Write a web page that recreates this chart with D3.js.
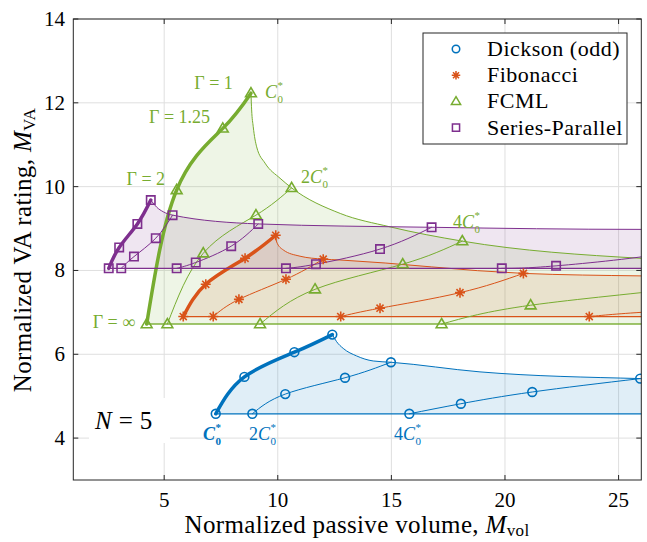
<!DOCTYPE html>
<html>
<head>
<meta charset="utf-8">
<script src="https://cdn.jsdelivr.net/npm/d3@7/dist/d3.min.js"></script>
<style>
html, body { margin: 0; padding: 0; background: #fff; }
svg text { font-family: "Liberation Serif", "Times New Roman", serif; fill: #000; }
</style>
</head>
<body>
<div id="chart"></div>
<script>
// points on each curve are read at these Γ values (bottom to top)
var gammas = ["inf", 2, 1.25, 1];
var xTicks = [5, 10, 15, 20, 25];
var yTicks = [4, 6, 8, 10, 12, 14];

// Dickson (odd): one row per capacitor size C0*, 2C0*, 4C0*
var dicksonX = [[7.27, 8.53, 10.73, 12.40], [8.88, 10.33, 12.96, 14.98], [15.79, 18.06, 21.2, 25.95]];
var dicksonY = [[4.58, 5.46, 6.05, 6.47], [4.58, 5.05, 5.44, 5.81], [4.58, 4.82, 5.10, 5.42]];
var dicksonEnvX = [12.40, 12.59, 12.88, 13.47, 14.20, 14.98, 18.9, 25.95, 27.5];
var dicksonEnvY = [6.47, 6.30, 6.14, 5.96, 5.84, 5.81, 5.58, 5.42, 5.40];

// Fibonacci: C0*, 2C0*, 4C0*, 8C0*
var fibX = [[5.84, 6.83, 8.56, 9.91], [7.16, 8.29, 10.36, 12.0], [12.77, 14.5, 18.02, 20.81], [23.71, 26.9, 33.5, 38.5]];
var fibY = [[6.90, 7.67, 8.29, 8.84], [6.90, 7.31, 7.79, 8.27], [6.90, 7.10, 7.47, 7.93], [6.90, 7.03, 7.25, 7.60]];
var fibEnvX = [9.91, 9.95, 10.24, 10.98, 12.0, 12.74, 20.81, 26, 27.5];
var fibEnvY = [8.84, 8.68, 8.49, 8.34, 8.27, 8.25, 7.93, 7.87, 7.86];

// FCML: C0*, 2C0*, 4C0*, 8C0*
var fcmlX = [[4.23, 5.55, 7.58, 8.82], [5.14, 6.72, 9.04, 10.61], [9.22, 11.64, 15.5, 18.12], [17.21, 21.13, 28.1, 32.5]];
var fcmlY = [[6.72, 9.92, 11.39, 12.23], [6.72, 8.41, 9.32, 9.97], [6.72, 7.55, 8.15, 8.70], [6.72, 7.17, 7.60, 8.00]];
var fcmlEnvX = [8.82, 8.85, 8.92, 9.07, 9.44, 10.10, 10.61, 12.75, 14.94, 18.12, 26, 27.5];
var fcmlEnvY = [12.23, 11.83, 11.43, 10.95, 10.56, 10.20, 9.97, 9.36, 9.04, 8.70, 8.29, 8.25];

// Series-Parallel: C0*, 2C0*, 4C0*, 8C0*, 16C0*
var spX = [[2.56, 3.02, 3.82, 4.41], [3.11, 3.67, 4.63, 5.37], [5.55, 6.39, 7.95, 9.14], [10.36, 11.68, 14.5, 16.77], [19.86, 22.25, 27.6, 31.9]];
var spY = [[8.05, 8.55, 9.11, 9.68], [8.05, 8.33, 8.77, 9.32], [8.05, 8.19, 8.58, 9.11], [8.05, 8.15, 8.51, 9.03], [8.05, 8.11, 8.45, 8.99]];
var spEnvX = [4.41, 4.67, 4.96, 5.37, 9.14, 16.77, 26, 27.5];
var spEnvY = [9.68, 9.51, 9.40, 9.32, 9.11, 9.03, 8.98, 8.98];

var families = [
    { name: "Dickson (odd)", color: "#0072BD", marker: "circle", xs: dicksonX, ys: dicksonY, envX: dicksonEnvX, envY: dicksonEnvY },
    { name: "Fibonacci", color: "#D95319", marker: "asterisk", xs: fibX, ys: fibY, envX: fibEnvX, envY: fibEnvY },
    { name: "FCML", color: "#77AC30", marker: "triangle", xs: fcmlX, ys: fcmlY, envX: fcmlEnvX, envY: fcmlEnvY },
    { name: "Series-Parallel", color: "#7E2F8E", marker: "square", xs: spX, ys: spY, envX: spEnvX, envY: spEnvY }
];

var W = 647, H = 542;
var x = d3.scaleLinear().domain([1, 26]).range([73.3, 641.3]);
var y = d3.scaleLinear().domain([3, 14]).range([480, 19]);

var svg = d3.select("#chart").append("svg").attr("width", W).attr("height", H);

svg.append("defs").append("clipPath").attr("id", "plotclip")
    .append("rect").attr("x", x(1)).attr("y", y(14)).attr("width", x(26) - x(1)).attr("height", y(3) - y(14));

/** grid */
var grid = svg.append("g").attr("stroke", "#dfdfdf").attr("stroke-width", 1);
xTicks.forEach(function (t) {
    grid.append("line").attr("x1", x(t)).attr("x2", x(t)).attr("y1", y(3)).attr("y2", y(14));
});
yTicks.forEach(function (t) {
    grid.append("line").attr("x1", x(1)).attr("x2", x(26)).attr("y1", y(t)).attr("y2", y(t));
});

function pts(xs, ys) {
    return xs.map(function (v, i) { return [v, ys[i]]; });
}
var curveLine = d3.line().x(function (d) { return x(d[0]); }).y(function (d) { return y(d[1]); }).curve(d3.curveNatural);
var envLine = d3.line().x(function (d) { return x(d[0]); }).y(function (d) { return y(d[1]); }).curve(d3.curveMonotoneX);

var plot = svg.append("g").attr("clip-path", "url(#plotclip)");

/** shaded areas: first curve, then the Γ = 1 envelope, back along Γ = ∞ */
families.forEach(function (f) {
    var base = f.ys[0][0];
    var envPts = pts(f.envX, f.envY);
    var p = curveLine(pts(f.xs[0], f.ys[0])) + envLine(envPts).replace(/^M/, "L") +
        "L" + x(f.envX[f.envX.length - 1]) + "," + y(base) + "Z";
    plot.append("path").attr("d", p).attr("fill", f.color).attr("fill-opacity", 0.12).attr("stroke", "none");
});

/** lines */
families.forEach(function (f) {
    var base = f.ys[0][0];
    plot.append("line")
        .attr("x1", x(f.xs[0][0])).attr("x2", x(27.5))
        .attr("y1", y(base)).attr("y2", y(base))
        .attr("stroke", f.color).attr("stroke-width", f.marker === "triangle" ? 2 : 1.3)
        .attr("stroke-opacity", f.marker === "triangle" ? 0.7 : 1);
    plot.append("path").attr("d", envLine(pts(f.envX, f.envY)))
        .attr("fill", "none").attr("stroke", f.color).attr("stroke-width", 1);
    f.xs.forEach(function (row, i) {
        plot.append("path").attr("d", curveLine(pts(row, f.ys[i])))
            .attr("fill", "none").attr("stroke", f.color)
            .attr("stroke-width", i === 0 ? 3.5 : 1)
            .attr("stroke-linecap", "round");
    });
});

function markerPath(type) {
    if (type === "circle") return "M4.4,0A4.4,4.4 0 1,1 -4.4,0A4.4,4.4 0 1,1 4.4,0Z";
    if (type === "triangle") return "M0,-5.6L5.4,3.6L-5.4,3.6Z";
    if (type === "square") return "M-4.2,-4.2H4.2V4.2H-4.2Z";
    var r = 5, d = r * Math.SQRT1_2;
    return "M0," + (-r) + "V" + r + "M" + (-r) + ",0H" + r +
        "M" + (-d) + "," + (-d) + "L" + d + "," + d + "M" + (-d) + "," + d + "L" + d + "," + (-d);
}

/** markers */
families.forEach(function (f) {
    f.xs.forEach(function (row, i) {
        row.forEach(function (v, j) {
            if (v > 26.2) return;
            plot.append("path").attr("d", markerPath(f.marker))
                .attr("transform", "translate(" + x(v) + "," + y(f.ys[i][j]) + ")")
                .attr("fill", "none").attr("stroke", f.color).attr("stroke-width", 1.6);
        });
    });
});

/** frame and ticks */
var frame = svg.append("g").attr("stroke", "#262626").attr("stroke-width", 1).attr("fill", "none");
frame.append("rect").attr("x", x(1)).attr("y", y(14)).attr("width", x(26) - x(1)).attr("height", y(3) - y(14));
xTicks.forEach(function (t) {
    frame.append("line").attr("x1", x(t)).attr("x2", x(t)).attr("y1", y(3)).attr("y2", y(3) - 5);
    frame.append("line").attr("x1", x(t)).attr("x2", x(t)).attr("y1", y(14)).attr("y2", y(14) + 5);
    svg.append("text").attr("x", x(t)).attr("y", 507).attr("text-anchor", "middle")
        .attr("font-size", 21).text(t);
});
yTicks.forEach(function (t) {
    frame.append("line").attr("x1", x(1)).attr("x2", x(1) + 5).attr("y1", y(t)).attr("y2", y(t));
    frame.append("line").attr("x1", x(26)).attr("x2", x(26) - 5).attr("y1", y(t)).attr("y2", y(t));
    svg.append("text").attr("x", 65).attr("y", y(t) + 7).attr("text-anchor", "end")
        .attr("font-size", 21).text(t);
});

/** axis labels */
var xl = svg.append("text").attr("x", 357).attr("y", 533).attr("text-anchor", "middle")
    .attr("font-size", 25).attr("letter-spacing", 0.35);
xl.append("tspan").text("Normalized passive volume, ");
xl.append("tspan").attr("font-style", "italic").text("M");
xl.append("tspan").attr("font-size", 17).attr("dy", 3).text("vol");

var yl = svg.append("text").attr("transform", "translate(31,250) rotate(-90)").attr("text-anchor", "middle")
    .attr("font-size", 25).attr("letter-spacing", 0.35);
yl.append("tspan").text("Normalized VA rating, ");
yl.append("tspan").attr("font-style", "italic").text("M");
yl.append("tspan").attr("font-size", 17).attr("dy", 4).text("VA");

/** annotations */
var green = "#77AC30", blue = "#0072BD";
function gammaLabel(txt, px, py) {
    svg.append("text").attr("x", x(px)).attr("y", y(py)).attr("text-anchor", "end")
        .attr("font-size", 18).style("fill", green).text(txt);
}
gammaLabel("Γ = 1", 8.02, 12.33);
gammaLabel("Γ = 1.25", 7.02, 11.52);
gammaLabel("Γ = 2", 5.04, 10.04);
gammaLabel("Γ = ∞", 3.72, 6.63);

function capLabel(mult, px, py, color, bold) {
    var x0 = x(px), y0 = y(py);
    var t = svg.append("text").attr("x", x0).attr("y", y0).attr("font-size", 18).style("fill", color);
    if (bold) t.attr("font-weight", "bold");
    if (mult) t.append("tspan").text(mult);
    t.append("tspan").attr("font-style", "italic").text("C");
    var x1 = x0 + t.node().getComputedTextLength() + 0.5;
    svg.append("text").attr("x", x1).attr("y", y0 - 9).attr("font-size", 11)
        .attr("font-weight", bold ? "bold" : null).style("fill", color).text("*");
    svg.append("text").attr("x", x1).attr("y", y0 + 5).attr("font-size", 11)
        .attr("font-weight", bold ? "bold" : null).style("fill", color).text("0");
}
capLabel("", 9.44, 12.11, green, false);
capLabel("2", 11.02, 10.09, green, false);
capLabel("4", 17.71, 9.01, green, false);
capLabel("", 6.71, 3.95, blue, true);
capLabel("2", 8.73, 3.95, blue, false);
capLabel("4", 15.12, 3.95, blue, false);

svg.append("rect").attr("x", 89).attr("y", 398).attr("width", 81).attr("height", 45).attr("fill", "#fff");
var nl = svg.append("text").attr("x", 95).attr("y", 429).attr("font-size", 25);
nl.append("tspan").attr("font-style", "italic").text("N");
nl.append("tspan").attr("dx", 7).text("=");
nl.append("tspan").attr("dx", 7).text("5");

/** legend */
var lg = svg.append("g").attr("transform", "translate(423,33)");
lg.append("rect").attr("width", 204).attr("height", 111).attr("fill", "#fff").attr("stroke", "#262626").attr("stroke-width", 1);
families.forEach(function (f, i) {
    var cy = 16 + i * 26.2;
    lg.append("path").attr("d", markerPath(f.marker)).attr("transform", "translate(33," + cy + ") scale(0.85)")
        .attr("fill", "none").attr("stroke", f.color).attr("stroke-width", 1.8);
    lg.append("text").attr("x", 64).attr("y", cy + 7).attr("font-size", 22).attr("letter-spacing", 0.5).text(f.name);
});
</script>
</body>
</html>
